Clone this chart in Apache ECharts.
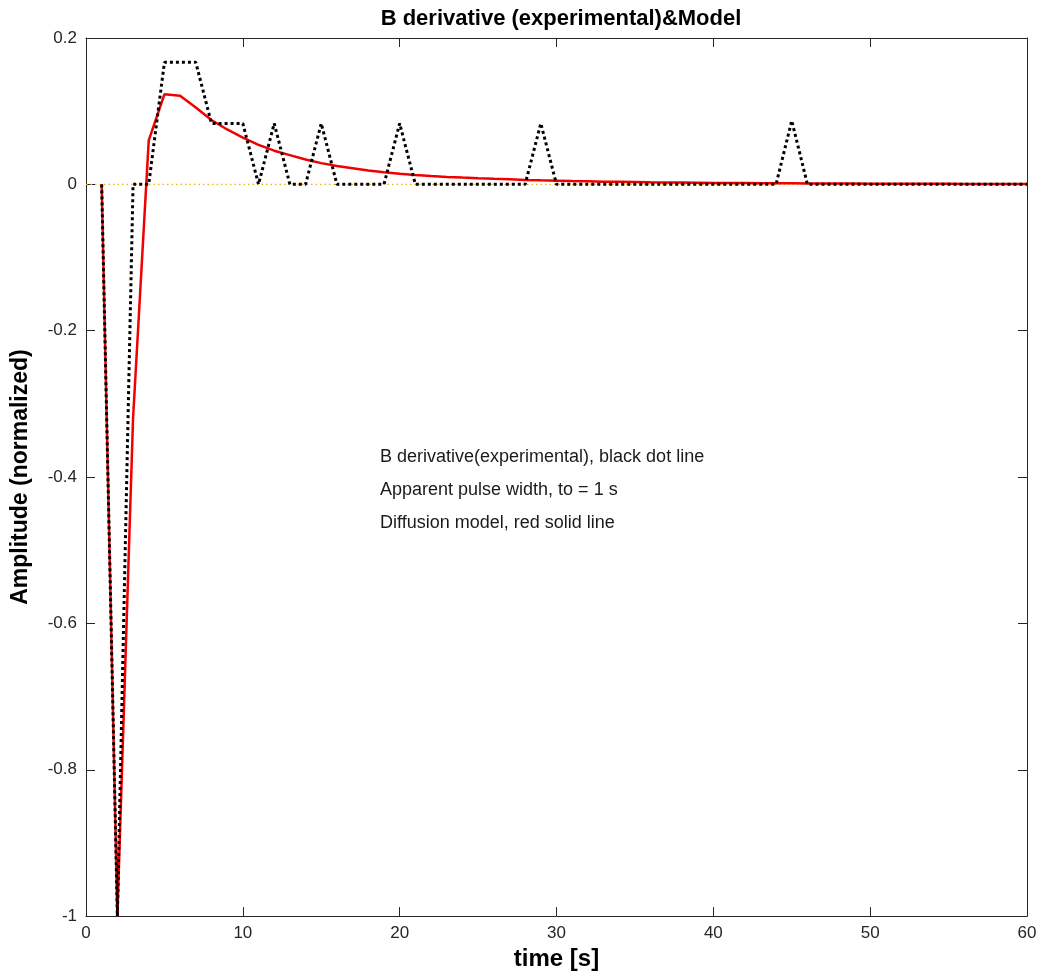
<!DOCTYPE html>
<html>
<head>
<meta charset="utf-8">
<title>B derivative (experimental)&Model</title>
<script src="https://cdn.jsdelivr.net/npm/echarts@6/dist/echarts.min.js"></script>
<style>
  html, body { margin: 0; padding: 0; background: #fff; }
  #chart { width: 1043px; height: 976px; }
</style>
</head>
<body>
<div id="chart"></div>
<script>
// time axis samples [s]
const time = [1, 2, 3, 4, 5, 6, 7, 8, 9, 10,
  11, 12, 13, 14, 15, 16, 17, 18, 19, 20,
  21, 22, 23, 24, 25, 26, 27, 28, 29, 30,
  31, 32, 33, 34, 35, 36, 37, 38, 39, 40,
  41, 42, 43, 44, 45, 46, 47, 48, 49, 50,
  51, 52, 53, 54, 55, 56, 57, 58, 59, 60]

// B derivative (experimental) - black dotted
const experimental = [0, -1, 0, 0, 0.1667, 0.1667, 0.1667, 0.0833, 0.0833, 0.0833,
  0, 0.0833, 0, 0, 0.0833, 0, 0, 0, 0, 0.0833,
  0, 0, 0, 0, 0, 0, 0, 0, 0.0833, 0,
  0, 0, 0, 0, 0, 0, 0, 0, 0, 0,
  0, 0, 0, 0, 0.087, 0, 0, 0, 0, 0,
  0, 0, 0, 0, 0, 0, 0, 0, 0, 0]

// diffusion model - red solid
const model = [0, -1, -0.32, 0.06, 0.123, 0.121, 0.105, 0.088, 0.075, 0.064,
  0.054, 0.046, 0.040, 0.034, 0.029, 0.025, 0.022, 0.019, 0.0165, 0.0145,
  0.0128, 0.0114, 0.0102, 0.0092, 0.0083, 0.0075, 0.0068, 0.0061, 0.0055, 0.0050,
  0.0045, 0.0041, 0.0037, 0.0034, 0.0031, 0.0028, 0.0026, 0.0024, 0.0022, 0.0020,
  0.0018, 0.0017, 0.0016, 0.0015, 0.0014, 0.0013, 0.0012, 0.0011, 0.0010, 0.0009,
  0.0009, 0.0008, 0.0008, 0.0007, 0.0007, 0.0006, 0.0006, 0.0005, 0.0005, 0.0005]

const zeroLine = [[0, 0], [60, 0]]

const notes = [
  'B derivative(experimental), black dot line',
  'Apparent pulse width, to = 1 s',
  'Diffusion model, red solid line'
]

const pairs = (ys) => time.map((t, i) => [t, ys[i]])

const font = '"Liberation Sans", Arial, Helvetica, sans-serif'
const axisColor = '#262626'

var chart = echarts.init(document.getElementById('chart'))

const tickStyle = { inside: true, length: 9, lineStyle: { color: axisColor, width: 1 } }

var option = {
  animation: false,
  backgroundColor: '#fff',
  title: {
    text: 'B derivative (experimental)&Model',
    left: 556, top: 3, textAlign: 'center',
    textStyle: { fontFamily: font, fontSize: 22, fontWeight: 'bold', color: '#000' }
  },
  grid: { left: 86, right: 16, top: 38, bottom: 56 },
  xAxis: [{
    type: 'value', min: 0, max: 60, interval: 10,
    name: 'time [s]', nameLocation: 'middle', nameGap: 29,
    nameTextStyle: { fontFamily: font, fontSize: 24, fontWeight: 'bold', color: '#000' },
    axisLine: { onZero: false, lineStyle: { color: axisColor, width: 1 } },
    axisTick: tickStyle,
    axisLabel: { fontFamily: font, fontSize: 17, color: axisColor, margin: 9 },
    splitLine: { show: false }
  }, {
    type: 'value', min: 0, max: 60, interval: 10, position: 'top',
    axisLine: { onZero: false, lineStyle: { color: axisColor, width: 1 } },
    axisTick: tickStyle,
    axisLabel: { show: false },
    splitLine: { show: false }
  }],
  yAxis: [{
    type: 'value', min: -1, max: 0.2, interval: 0.2,
    name: 'Amplitude (normalized)', nameLocation: 'middle', nameGap: 54,
    nameTextStyle: { fontFamily: font, fontSize: 23, fontWeight: 'bold', color: '#000' },
    axisLine: { show: true, onZero: false, lineStyle: { color: axisColor, width: 1 } },
    axisTick: tickStyle,
    axisLabel: { fontFamily: font, fontSize: 17, color: axisColor, margin: 9,
      formatter: (v) => String(Math.round(v * 10) / 10) },
    splitLine: { show: false }
  }, {
    type: 'value', min: -1, max: 0.2, interval: 0.2, position: 'right',
    axisLine: { show: true, onZero: false, lineStyle: { color: axisColor, width: 1 } },
    axisTick: tickStyle,
    axisLabel: { show: false },
    splitLine: { show: false }
  }],
  graphic: notes.map((s, i) => ({
    type: 'text', left: 380, top: 448 + i * 33,
    style: { text: s, fontFamily: font, fontSize: 18, fill: '#1a1a1a' }
  })),
  series: [{
    name: 'zero', type: 'line', data: zeroLine, symbol: 'none',
    lineStyle: { color: '#EDB120', width: 1.2, type: [1.5, 3] }, z: 1
  }, {
    name: 'Diffusion model', type: 'line', data: pairs(model), symbol: 'none',
    lineStyle: { color: '#f00000', width: 2.5 }, z: 2
  }, {
    name: 'B derivative (experimental)', type: 'line', data: pairs(experimental), symbol: 'none',
    lineStyle: { color: '#000', width: 3, type: [3, 3] }, z: 3
  }]
}

chart.setOption(option)
</script>
</body>
</html>
